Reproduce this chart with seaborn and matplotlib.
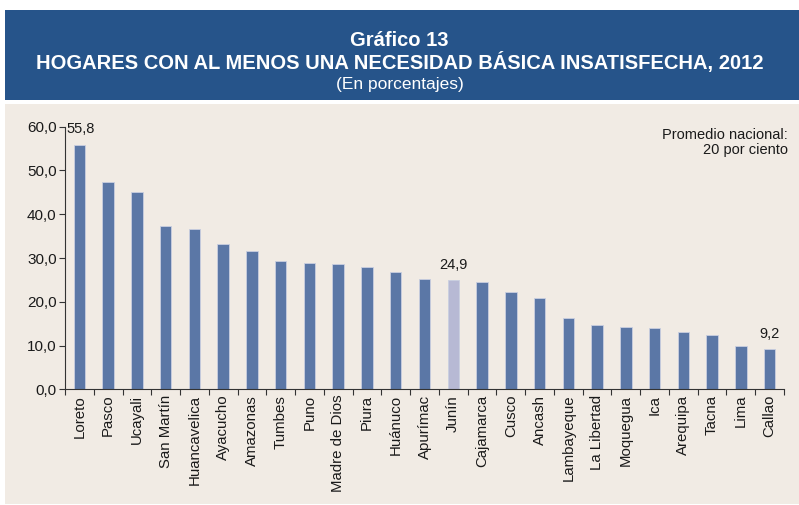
import numpy as np
import matplotlib
matplotlib.use('Agg')
import matplotlib.pyplot as plt
import seaborn as sns
from matplotlib.ticker import FuncFormatter, FixedLocator
from matplotlib.patches import Rectangle

sns.set_theme(style='white')
plt.rcParams['font.family'] = ['Liberation Sans', 'DejaVu Sans']

# Data
regiones = ['Loreto', 'Pasco', 'Ucayali', 'San Martín', 'Huancavelica', 'Ayacucho',
            'Amazonas', 'Tumbes', 'Puno', 'Madre de Dios', 'Piura', 'Huánuco',
            'Apurímac', 'Junín', 'Cajamarca', 'Cusco', 'Ancash', 'Lambayeque',
            'La Libertad', 'Moquegua', 'Ica', 'Arequipa', 'Tacna', 'Lima', 'Callao']
valores = [55.8, 47.3, 45.0, 37.4, 36.6, 33.1, 31.7, 29.3, 28.9, 28.7, 27.9, 26.7,
           25.3, 24.9, 24.6, 22.2, 20.8, 16.2, 14.7, 14.2, 14.0, 13.0, 12.5, 9.8, 9.2]
destacado = 'Junín'
etiquetas = {'Loreto': '55,8', 'Junín': '24,9', 'Callao': '9,2'}

azul = '#5B77A6'
lila = '#B7B9D4'
colores = {r: (lila if r == destacado else azul) for r in regiones}

fig = plt.figure(figsize=(7.99, 5.05), dpi=100)
fig.patch.set_facecolor('white')

# header and panel
fig.add_artist(Rectangle((5 / 799, 1 - 100 / 505), 794 / 799, 90 / 505,
                         transform=fig.transFigure, facecolor='#26548A',
                         edgecolor='none', zorder=-10))
fig.add_artist(Rectangle((5 / 799, 1 - 504 / 505), 794 / 799, 400 / 505,
                         transform=fig.transFigure, facecolor='#F1EBE4',
                         edgecolor='none', zorder=-10))

fig.text(0.5, 1 - 40 / 505, 'Gráfico 13', color='white', fontsize=14.5, fontweight='bold',
         ha='center', va='center')
fig.text(0.5, 1 - 62 / 505, 'HOGARES CON AL MENOS UNA NECESIDAD BÁSICA INSATISFECHA, 2012',
         color='white', fontsize=14.5, fontweight='bold', ha='center', va='center')
fig.text(0.5, 1 - 85 / 505, '(En porcentajes)', color='white', fontsize=12.5,
         ha='center', va='center')

ax = fig.add_axes([65 / 799, 1 - 389.3 / 505, (784 - 65) / 799, (389.3 - 126.7) / 505])
ax.set_facecolor('none')
ax.set_zorder(5)

sns.barplot(x=regiones, y=valores, hue=regiones, palette=colores, legend=False,
            width=0.4, saturation=1, edgecolor='#C9CFE0', linewidth=0.6, ax=ax)

ax.set_xlim(-0.5, len(regiones) - 0.5)
ax.set_ylim(0, 60)
ax.set_yticks(np.arange(0, 61, 10))
ax.yaxis.set_major_formatter(FuncFormatter(lambda v, p: f'{v:.1f}'.replace('.', ',')))
ax.tick_params(axis='y', direction='out', length=4, width=0.8, color='#333333',
               labelsize=11, labelcolor='#1a1a1a', pad=2, left=True)
ax.tick_params(axis='x', which='major', length=0, labelsize=10.8, labelcolor='#1a1a1a',
               rotation=90, pad=4)
ax.xaxis.set_minor_locator(FixedLocator(np.arange(-0.5, len(regiones), 1)))
ax.tick_params(axis='x', which='minor', direction='out', length=4, width=0.8,
               color='#333333', bottom=True)

for s in ['top', 'right']:
    ax.spines[s].set_visible(False)
for s in ['left', 'bottom']:
    ax.spines[s].set_color('#333333')
    ax.spines[s].set_linewidth(0.8)
ax.set_xlabel('')
ax.set_ylabel('')

for i, r in enumerate(regiones):
    if r in etiquetas:
        if r == 'Loreto':
            ax.text(i - 0.45, 59.5, etiquetas[r], ha='left', va='center', fontsize=10.5,
                    color='#1a1a1a')
        else:
            ax.text(i, valores[i] + 1.8, etiquetas[r], ha='center', va='bottom',
                    fontsize=10.5, color='#1a1a1a')

fig.text(788 / 799, 1 - 128 / 505, 'Promedio nacional:\n20 por ciento', ha='right',
         va='top', fontsize=10.5, color='#1a1a1a', linespacing=1.1)

fig.savefig('out.png', dpi=100)
